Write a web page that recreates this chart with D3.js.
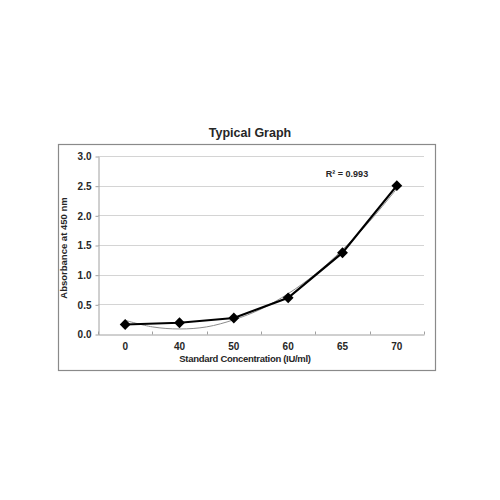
<!DOCTYPE html>
<html>
<head>
<script src="https://d3js.org/d3.v7.min.js"></script>
<style>
  body { margin: 0; background: white; }
  text { font-family: "Liberation Sans", Arial, sans-serif; font-weight: bold; fill: #262626; }
</style>
</head>
<body>
<script>

// standard concentrations (IU/ml) and absorbance
var concentrations = ["0", "40", "50", "60", "65", "70"];
var absorbance = [0.16, 0.19, 0.27, 0.61, 1.37, 2.50];

// grey polynomial trendline, read at half steps between the categories
var trendPos = [0, 0.5, 1, 1.5, 2, 2.5, 3, 3.5, 4, 4.5, 5];
var trendValues = [0.23, 0.12, 0.085, 0.12, 0.24, 0.42, 0.68, 1.01, 1.42, 1.90, 2.45];

var yTicks = [0, 0.5, 1.0, 1.5, 2.0, 2.5, 3.0];

var width = 500, height = 500;

var plot = { left: 98, right: 424, top: 156, bottom: 334 };

var svg = d3.select("body").append("svg")
    .attr("width", width)
    .attr("height", height);

svg.append("rect")
    .attr("width", width)
    .attr("height", height)
    .attr("fill", "white");

// chart area border
svg.append("rect")
    .attr("x", 58.5)
    .attr("y", 144.5)
    .attr("width", 377)
    .attr("height", 226)
    .attr("fill", "none")
    .attr("stroke", "#8a8a8a")
    .attr("stroke-width", 1.2);

svg.append("text")
    .attr("x", 250)
    .attr("y", 137)
    .attr("text-anchor", "middle")
    .attr("font-size", "12.5px")
    .text("Typical Graph");

var x = d3.scaleBand()
    .domain(concentrations)
    .range([plot.left, plot.right]);

// position scale for the trendline (category index -> band centre)
var xi = d3.scaleLinear()
    .domain([0, concentrations.length - 1])
    .range([x(concentrations[0]) + x.bandwidth() / 2, x(concentrations[concentrations.length - 1]) + x.bandwidth() / 2]);

var y = d3.scaleLinear()
    .domain([0, 3])
    .range([plot.bottom, plot.top]);

// gridlines
svg.append("g")
    .selectAll("line")
    .data(yTicks.slice(1))
    .enter().append("line")
    .attr("x1", plot.left)
    .attr("x2", plot.right)
    .attr("y1", function(d) { return Math.round(y(d)) + 0.5; })
    .attr("y2", function(d) { return Math.round(y(d)) + 0.5; })
    .attr("stroke", "#d4d4d4")
    .attr("stroke-width", 1);

// y axis
var yAxis = svg.append("g")
    .attr("transform", "translate(" + (plot.left + 0.5) + ",0.5)")
    .call(d3.axisLeft(y).tickValues(yTicks).tickFormat(d3.format(".1f")).tickSizeInner(3).tickSizeOuter(0).tickPadding(4));

yAxis.select(".domain").attr("stroke", "#a0a0a0");
yAxis.selectAll(".tick line").attr("stroke", "#a0a0a0");
yAxis.selectAll("text")
    .attr("font-size", "10px")
    .attr("font-family", null)
    .attr("fill", "#262626");

// x axis
var xAxis = svg.append("g")
    .attr("transform", "translate(0," + (plot.bottom + 0.5) + ")")
    .call(d3.axisBottom(x).tickSize(0).tickPadding(8));

xAxis.select(".domain").attr("stroke", "#a0a0a0");
xAxis.selectAll("text")
    .attr("font-size", "10px")
    .attr("font-family", null)
    .attr("fill", "#262626");

// category separators, small ticks pointing up
xAxis.selectAll(".sep")
    .data(d3.range(concentrations.length + 1))
    .enter().append("line")
    .attr("class", "sep")
    .attr("x1", function(i) { return Math.round(plot.left + i * x.bandwidth()) + 0.5; })
    .attr("x2", function(i) { return Math.round(plot.left + i * x.bandwidth()) + 0.5; })
    .attr("y1", -3)
    .attr("y2", 0)
    .attr("stroke", "#a0a0a0");

svg.append("text")
    .attr("x", 245)
    .attr("y", 362)
    .attr("text-anchor", "middle")
    .attr("font-size", "9.5px")
    .attr("letter-spacing", "-0.3px")
    .text("Standard Concentration (IU/ml)");

svg.append("text")
    .attr("transform", "translate(67,248) rotate(-90)")
    .attr("text-anchor", "middle")
    .attr("font-size", "9.5px")
    .text("Absorbance at 450 nm");

// trendline
var trendLine = d3.line()
    .x(function(d, i) { return xi(trendPos[i]); })
    .y(function(d) { return y(d); })
    .curve(d3.curveCatmullRom);

svg.append("path")
    .datum(trendValues)
    .attr("d", trendLine)
    .attr("fill", "none")
    .attr("stroke", "#8c8c8c")
    .attr("stroke-width", 1);

// data series
var dataLine = d3.line()
    .x(function(d, i) { return x(concentrations[i]) + x.bandwidth() / 2; })
    .y(function(d) { return y(d); });

svg.append("path")
    .datum(absorbance)
    .attr("d", dataLine)
    .attr("fill", "none")
    .attr("stroke", "black")
    .attr("stroke-width", 2.2);

svg.append("g")
    .selectAll("path")
    .data(absorbance)
    .enter().append("path")
    .attr("d", d3.symbol().type(d3.symbolDiamond2).size(75))
    .attr("transform", function(d, i) {
        return "translate(" + (x(concentrations[i]) + x.bandwidth() / 2) + "," + y(d) + ")";
    })
    .attr("fill", "black");

svg.append("text")
    .attr("x", 347)
    .attr("y", 177)
    .attr("text-anchor", "middle")
    .attr("font-size", "9px")
    .text("R\u00b2 = 0.993");

</script>
</body>
</html>
